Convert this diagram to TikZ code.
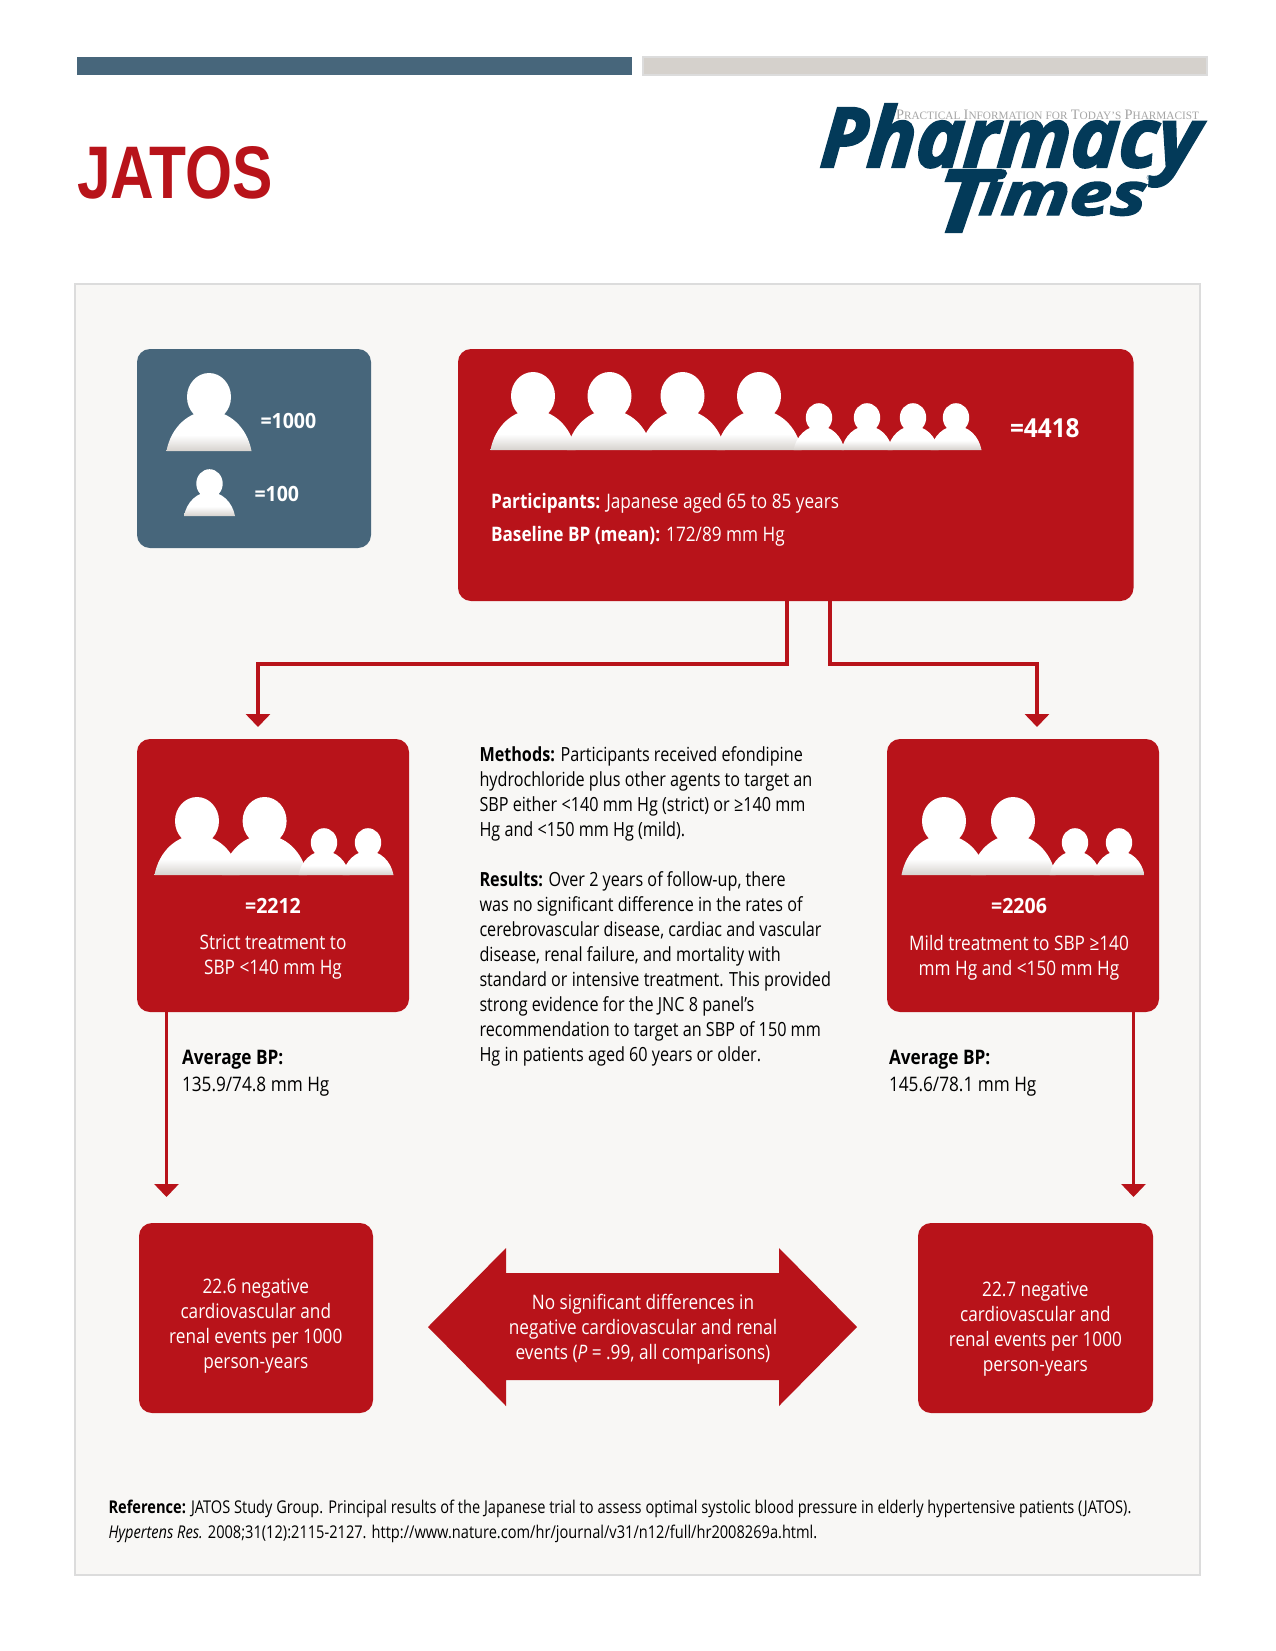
\documentclass[tikz,border=0pt]{standalone}
\usepackage{fontspec}
\usepackage{graphicx}
\usetikzlibrary{arrows.meta}
\setmainfont[FakeStretch=0.83]{Open Sans}
\newfontfamily\wfont[FakeStretch=0.86]{Open Sans}
\newfontfamily\numfont[FakeStretch=0.93]{Open Sans}
\newfontfamily\logofont[FakeBold=2.5,FakeSlant=0.08]{Open Sans}
\newfontfamily\titlefont{Liberation Sans}
\newfontfamily\tagfont{Liberation Serif}
\definecolor{ptred}{HTML}{B8131A}
\definecolor{ptblue}{HTML}{47667B}
\definecolor{ptgray}{HTML}{D5D1CC}
\definecolor{ptpanel}{HTML}{F8F7F5}
\definecolor{ptedge}{HTML}{DCDCDC}
\definecolor{ptnavy}{HTML}{033A59}
\definecolor{ptshade}{HTML}{D6D2CE}
\definecolor{pttag}{HTML}{A5A5A5}
\pgfdeclareverticalshading{bustshade}{100bp}{color(0bp)=(ptshade);color(25bp)=(ptshade);color(45bp)=(white);color(100bp)=(white)}
\newcommand{\tagcap}[2]{{\fontsize{11}{11}\selectfont #1}{\fontsize{8.6}{11}\selectfont #2}}
\tikzset{
  x=1pt,y=-1pt,
  every node/.style={inner sep=0pt,outer sep=0pt},
  body/.style={font=\fontsize{19.5}{25}\selectfont,align=left,text=black},
  bodyw/.style={font=\wfont\fontsize{20}{25}\selectfont,align=center,text=white},
  lineW/.style={anchor=base west,text=white,font=\wfont\fontsize{20}{25}\selectfont},
  avg/.style={anchor=north west,align=left,text=black,font=\wfont\fontsize{20}{27.4}\selectfont},
  num/.style={text=white,font=\numfont\bfseries\fontsize{21}{25}\selectfont},
  legendbox/.style={fill=ptblue,rounded corners=13pt},
  redbox/.style={fill=ptred,rounded corners=13pt},
  wire/.style={draw=ptred,line width=4pt,-{Triangle[length=13pt,width=24pt]}},
  thinwire/.style={draw=ptred,line width=3pt,-{Triangle[length=13pt,width=24pt]}},
  person/.pic={
    \fill[white] (0,-54) ellipse [x radius=22,y radius=24];
    \shade[shading=bustshade]
      (-42.5,0) .. controls (-38,-24) and (-20,-40) .. (0,-40)
      .. controls (20,-40) and (38,-24) .. (42.5,0) -- cycle;
  }
}
\begin{document}
\begin{tikzpicture}
\useasboundingbox (0,0) rectangle (1275,1651);
\fill[white] (0,0) rectangle (1275,1651);
% header bars
\fill[ptblue] (77,57) rectangle (632,75);
\draw[ptedge,line width=1.5pt,fill=ptgray] (643,57) rectangle (1207,75);
\node[anchor=base west,text=ptred] (title) at (77,198) {\resizebox{196pt}{52pt}{\titlefont\bfseries JATOS}};
% logo
\node[anchor=base west,text=pttag] (tag) at (896,120) {\resizebox{303pt}{!}{\tagfont \tagcap{P}{RACTICAL} \tagcap{I}{NFORMATION} \tagcap{}{FOR} \tagcap{T}{ODAY’S} \tagcap{P}{HARMACIST}}};
\node[anchor=base west,text=ptnavy] (ph) at (819,167) {\resizebox{379pt}{63pt}{\logofont\bfseries\itshape Pharmacy}};
\node[anchor=base west,text=ptnavy] (ti) at (933,232) {\resizebox{54pt}{62pt}{\logofont\bfseries\itshape T}\hspace*{-9pt}\raisebox{17pt}{\resizebox{167pt}{45pt}{\logofont\bfseries\itshape imes}}};
\node[anchor=center,text=ptnavy,font=\fontsize{7}{7}\selectfont] (reg) at (1149,178) {®};
% panel
\draw[ptedge,line width=2pt,fill=ptpanel] (75,284) rectangle (1200,1575);
% boxes
\node[legendbox,minimum width=234pt,minimum height=199pt] (legend) at (254,448.5) {};
\node[redbox,minimum width=675.5pt,minimum height=252pt] (main) at (795.75,475) {};
\node[redbox,minimum width=272pt,minimum height=273pt] (strict) at (273,875.5) {};
\node[redbox,minimum width=272pt,minimum height=273pt] (mild) at (1023,875.5) {};
\node[redbox,minimum width=234pt,minimum height=190pt] (outl) at (256,1318) {};
\node[redbox,minimum width=235pt,minimum height=190pt] (outr) at (1035.5,1318) {};
% connectors
\coordinate (tipA) at (258,727);
\coordinate (tipB) at (1037,727);
\coordinate (tipC) at (166.5,1197);
\coordinate (tipD) at (1133.5,1197);
\draw[wire] ([xshift=-8.75pt]main.south) -- ++(0,63) -| (tipA);
\draw[wire] ([xshift=34.25pt]main.south) -- ++(0,63) -| (tipB);
\draw[thinwire] (tipC |- strict.south) -- (tipC);
\draw[thinwire] (tipD |- mild.south) -- (tipD);
% people: legend
\pic at (209,451) {person};
\pic[scale=.6] at (209.5,516) {person};
% people: main
\pic at (533,450) {person};
\pic at (609.5,450) {person};
\pic at (682.5,450) {person};
\pic at (759,450) {person};
\pic[scale=.6] at (819,450) {person};
\pic[scale=.6] at (867,450) {person};
\pic[scale=.6] at (913,450) {person};
\pic[scale=.6] at (956,450) {person};
% people: strict
\pic at (197,875) {person};
\pic at (264.6,875) {person};
\pic[scale=.6] at (324,875) {person};
\pic[scale=.6] at (368,875) {person};
% people: mild
\pic at (944,875) {person};
\pic at (1013,875) {person};
\pic[scale=.6] at (1075,875) {person};
\pic[scale=.6] at (1119,875) {person};
% legend and main text
\node[num,anchor=base west] (n1000) at (260.5,428) {=1000};
\node[num,anchor=base west] (n100) at (254.5,501.5) {=100};
\node[num,anchor=base west,font=\numfont\bfseries\fontsize{26.2}{25}\selectfont] (n4418) at (1010,437) {=4418};
\node[lineW] (part) at (491,508) {\textbf{Participants:} Japanese aged 65 to 85 years};
\node[lineW] (base) at (491,541.5) {\textbf{Baseline BP (mean):} 172/89 mm Hg};
% centre text
\node[body,anchor=north west] (methods) at (479.5,747) {\textbf{Methods:} Participants received efondipine\\hydrochloride plus other agents to target an\\SBP either <140 mm Hg (strict) or ≥140 mm\\Hg and <150 mm Hg (mild).};
\node[body,anchor=north west] (results) at (479.5,872) {\textbf{Results:} Over 2 years of follow-up, there\\was no significant difference in the rates of\\cerebrovascular disease, cardiac and vascular\\disease, renal failure, and mortality with\\standard or intensive treatment. This provided\\strong evidence for the JNC 8 panel’s\\recommendation to target an SBP of 150 mm\\Hg in patients aged 60 years or older.};
% arm text
\node[num,anchor=base] (n2212) at (273,913) {=2212};
\node[bodyw,anchor=north] (armL) at (273,935) {Strict treatment to\\SBP <140 mm Hg};
\node[num,anchor=base] (n2206) at (1019,913) {=2206};
\node[bodyw,anchor=north] (armR) at (1019,935) {Mild treatment to SBP ≥140\\mm Hg and <150 mm Hg};
\node[avg] (avgL) at (182,1050) {\textbf{Average BP:}\\135.9/74.8 mm Hg};
\node[avg] (avgR) at (889,1050) {\textbf{Average BP:}\\145.6/78.1 mm Hg};
% outcomes
\node[bodyw,anchor=north] (outLt) at (255.8,1279) {22.6 negative\\cardiovascular and\\renal events per 1000\\person-years};
\node[bodyw,anchor=north] (outRt) at (1035.4,1282) {22.7 negative\\cardiovascular and\\renal events per 1000\\person-years};
% double arrow
\fill[ptred] (428,1327) -- (506,1248) -- (506,1273) -- (779,1273) -- (779,1248) -- (857,1327) -- (779,1406) -- (779,1380) -- (506,1380) -- (506,1406) -- cycle;
\node[bodyw,anchor=north] (nosig) at (643,1294) {No significant differences in\\negative cardiovascular and renal\\events (\textit{P} = .99, all comparisons)};
% reference
\node[anchor=north west,align=left,font=\fontsize{17.6}{25}\selectfont] (ref) at (108.5,1500) {\textbf{Reference:} JATOS Study Group. Principal results of the Japanese trial to assess optimal systolic blood pressure in elderly hypertensive patients (JATOS).\\\textit{Hypertens Res.} 2008;31(12):2115-2127. http://www.nature.com/hr/journal/v31/n12/full/hr2008269a.html.};
\end{tikzpicture}
\end{document}
